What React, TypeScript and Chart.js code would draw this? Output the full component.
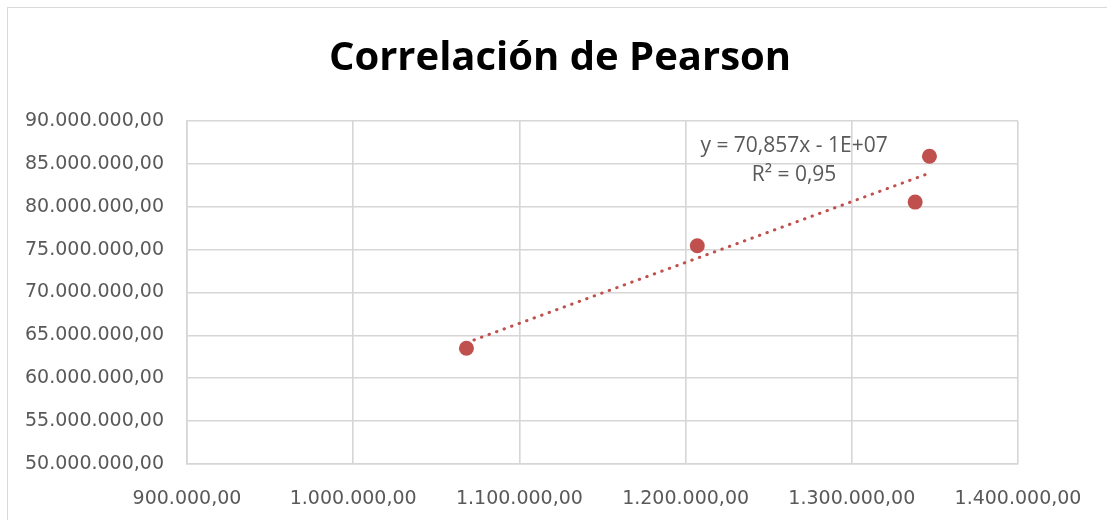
import React, { useEffect, useRef } from "react";
import { Chart, registerables } from "chart.js";

Chart.register(...registerables);

const xValues = [1068130, 1207040, 1338120, 1346720];
const yValues = [63500000, 75450000, 80540000, 85890000];
const xTicks = [900000, 1000000, 1100000, 1200000, 1300000, 1400000];
const yTicks = [50000000, 55000000, 60000000, 65000000, 70000000, 75000000, 80000000, 85000000, 90000000];
const titleText = "Correlación de Pearson";
const equationLines = ["y = 70,857x - 1E+07", "R² = 0,95"];
const equationAnchor = { x: 1265250, y: [86390000, 82980000] };

const FONT = "'Open Sans', sans-serif";
const TICK_FONT = "'DejaVu Sans', sans-serif";
const TEXT = "#595959";
const GRID = "#D6D6D6";
const RED = "#C0504D";

function fmt(v: number): string {
  const s = Math.round(v).toString().replace(/\B(?=(\d{3})+(?!\d))/g, ".");
  return s + ",00";
}

function regression(xs: number[], ys: number[]) {
  const n = xs.length;
  const mx = xs.reduce((a, b) => a + b, 0) / n;
  const my = ys.reduce((a, b) => a + b, 0) / n;
  let sxy = 0, sxx = 0;
  for (let i = 0; i < n; i++) {
    sxy += (xs[i] - mx) * (ys[i] - my);
    sxx += (xs[i] - mx) * (xs[i] - mx);
  }
  const m = sxy / sxx;
  return { m, b: my - m * mx };
}

const textPlugin = {
  id: "texts",
  afterDatasetsDraw(chart: any) {
    const { ctx, scales } = chart;
    ctx.save();
    ctx.fillStyle = "#000000";
    ctx.font = `bold 40px ${FONT}`;
    ctx.textAlign = "center";
    ctx.textBaseline = "alphabetic";
    ctx.fillText(titleText, 560, 70);
    ctx.fillStyle = TEXT;
    ctx.font = `21px ${FONT}`;
    const px = scales.x.getPixelForValue(equationAnchor.x);
    equationLines.forEach((line, i) => {
      ctx.fillText(line, px, scales.y.getPixelForValue(equationAnchor.y[i]));
    });
    ctx.restore();
  },
};

export default function App() {
  const ref = useRef<HTMLCanvasElement>(null);
  useEffect(() => {
    if (!ref.current) return;
    const { m, b } = regression(xValues, yValues);
    const xmin = Math.min(...xValues);
    const xmax = Math.max(...xValues);
    const chart = new Chart(ref.current, {
      type: "scatter",
      data: {
        datasets: [
          {
            data: xValues.map((x, i) => ({ x, y: yValues[i] })),
            backgroundColor: RED,
            borderColor: RED,
            pointRadius: 7.5,
            pointBorderWidth: 0,
            order: 1,
          },
          {
            type: "line",
            data: [
              { x: xmin, y: m * xmin + b },
              { x: xmax, y: m * xmax + b },
            ],
            borderColor: RED,
            borderWidth: 3,
            borderDash: [0.5, 7.5],
            borderCapStyle: "round",
            pointRadius: 0,
            fill: false,
            order: 2,
          } as any,
        ],
      },
      options: {
        animation: false,
        responsive: false,
        layout: { padding: { left: 0, right: 89, top: 121, bottom: 11 } },
        plugins: {
          legend: { display: false },
          tooltip: { enabled: false },
          title: { display: false },
        },
        scales: {
          x: {
            type: "linear",
            min: xTicks[0],
            max: xTicks[xTicks.length - 1],
            afterBuildTicks: (axis: any) => {
              axis.ticks = xTicks.map((v) => ({ value: v }));
            },
            afterFit: (axis: any) => {
              axis.height = 45;
            },
            ticks: {
              color: TEXT,
              font: { family: TICK_FONT, size: 19 },
              padding: 24,
              maxRotation: 0,
              callback: (v: any) => fmt(Number(v)),
            },
            grid: { color: GRID, lineWidth: 1.6, drawTicks: false },
            border: { color: GRID, width: 1.6 },
          },
          y: {
            type: "linear",
            min: yTicks[0],
            max: yTicks[yTicks.length - 1],
            afterBuildTicks: (axis: any) => {
              axis.ticks = yTicks.map((v) => ({ value: v }));
            },
            afterFit: (axis: any) => {
              axis.width = 187;
            },
            ticks: {
              color: TEXT,
              font: { family: TICK_FONT, size: 19 },
              padding: 23,
              callback: (v: any) => fmt(Number(v)),
            },
            grid: { color: GRID, lineWidth: 1.6, drawTicks: false },
            border: { color: GRID, width: 1.6 },
          },
        },
      },
      plugins: [textPlugin],
    });
    return () => chart.destroy();
  }, []);

  return (
    <div style={{ position: "fixed", left: 0, top: 0, width: 1107, height: 520, background: "#fff" }}>
      <div
        style={{
          position: "absolute",
          left: 7,
          top: 7,
          width: 1120,
          height: 540,
          border: "1px solid #D9D9D9",
          boxSizing: "border-box",
        }}
      />
      <canvas ref={ref} width={1107} height={520} style={{ position: "absolute", left: 0, top: 0 }} />
    </div>
  );
}
